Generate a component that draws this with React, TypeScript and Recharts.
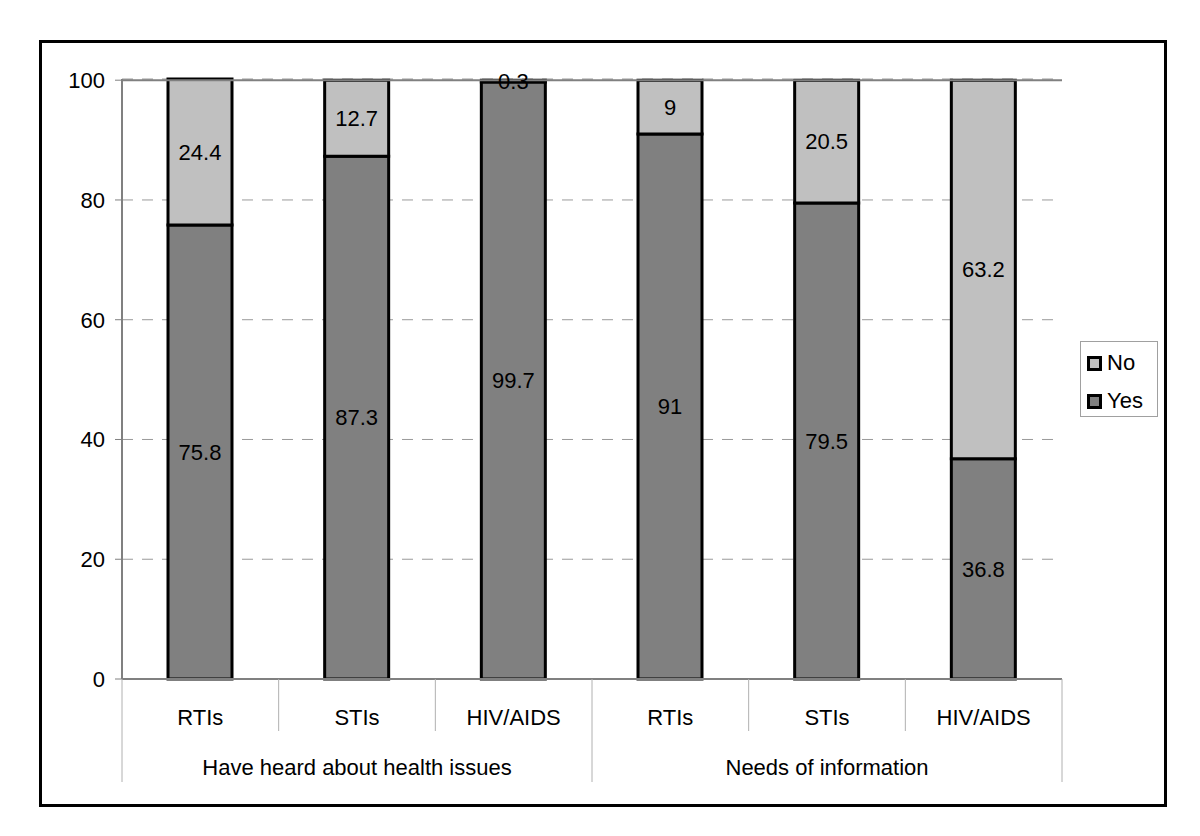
import React from 'react';
import { BarChart, Bar, XAxis, YAxis, CartesianGrid, ReferenceLine, LabelList } from 'recharts';

const categories = ['RTIs', 'STIs', 'HIV/AIDS', 'RTIs', 'STIs', 'HIV/AIDS'];
const groups = ['Have heard about health issues', 'Have heard about health issues', 'Have heard about health issues', 'Needs of information', 'Needs of information', 'Needs of information'];
const yesValues = [75.8, 87.3, 99.7, 91, 79.5, 36.8];
const noValues = [24.4, 12.7, 0.3, 9, 20.5, 63.2];
const yTicks = [0, 20, 40, 60, 80, 100];

const YES_COLOR = '#808080';
const NO_COLOR = '#c0c0c0';
const FONT = '"Liberation Sans", Arial, sans-serif';
const FS = 22;

// chart geometry
const W = 1200;
const H = 836;
const PLOT_LEFT = 122;
const PLOT_RIGHT = 1062;
const PLOT_TOP = 79;
const PLOT_BOTTOM = 679;
const BAND = (PLOT_RIGHT - PLOT_LEFT) / categories.length;

const data = categories.map((name, i) => ({
  key: `${i}`,
  name,
  group: groups[i],
  yes: yesValues[i],
  no: noValues[i],
}));

const CategoryTick = (props: any) => {
  const { x, index } = props;
  const i = index as number;
  const left = x - BAND / 2;
  const right = x + BAND / 2;
  const isGroupStart = i === 0 || groups[i] !== groups[i - 1];
  const isLast = i === categories.length - 1;
  const showGroup = i === 1 || i === 4;
  return (
    <g>
      <line x1={left} x2={left} y1={PLOT_BOTTOM} y2={isGroupStart ? 782 : 731} stroke="#b0b0b0" strokeWidth={1} />
      {isLast && <line x1={right} x2={right} y1={PLOT_BOTTOM} y2={782} stroke="#b0b0b0" strokeWidth={1} />}
      <text x={x} y={PLOT_BOTTOM + 46} textAnchor="middle" fontSize={FS} fill="#000" fontFamily={FONT}>
        {categories[i]}
      </text>
      {showGroup && (
        <text x={x} y={PLOT_BOTTOM + 96} textAnchor="middle" fontSize={FS} fill="#000" fontFamily={FONT}>
          {groups[i]}
        </text>
      )}
    </g>
  );
};

const legendItems = [
  { label: 'No', color: NO_COLOR },
  { label: 'Yes', color: YES_COLOR },
];

export default function App() {
  return (
    <div style={{ position: 'absolute', left: 0, top: 0, width: W, height: H, background: '#fff' }}>
      <BarChart
        width={W}
        height={H}
        data={data}
        margin={{ top: PLOT_TOP, right: W - PLOT_RIGHT, left: PLOT_LEFT - 70, bottom: H - PLOT_BOTTOM - 52 }}
        barCategoryGap={0}
        style={{ fontFamily: FONT }}
      >
        <CartesianGrid vertical={false} stroke="#9a9a9a" strokeDasharray="11 9" />
        <XAxis
          dataKey="key"
          height={52}
          axisLine={{ stroke: '#808080', strokeWidth: 2 }}
          tickLine={false}
          interval={0}
          tick={<CategoryTick />}
        />
        <YAxis
          domain={[0, 100]}
          ticks={yTicks}
          width={70}
          axisLine={{ stroke: '#808080', strokeWidth: 2 }}
          tickLine={{ stroke: '#808080' }}
          tickSize={7}
          tickMargin={10}
          tick={{ fill: '#000', fontSize: FS, fontFamily: FONT }}
        />
        <YAxis yAxisId="right" orientation="right" width={0} domain={[0, 100]} axisLine={{ stroke: '#808080', strokeWidth: 2 }} tick={false} tickLine={false} />
        <ReferenceLine y={100} stroke="#808080" strokeWidth={2} />
        <Bar dataKey="yes" name="Yes" stackId="a" fill={YES_COLOR} stroke="#000" strokeWidth={3} barSize={64} isAnimationActive={false}>
          <LabelList dataKey="yes" position="center" fill="#000" fontSize={FS} fontFamily={FONT} />
        </Bar>
        <Bar dataKey="no" name="No" stackId="a" fill={NO_COLOR} stroke="#000" strokeWidth={3} barSize={64} isAnimationActive={false}>
          <LabelList dataKey="no" position="center" fill="#000" fontSize={FS} fontFamily={FONT} />
        </Bar>
      </BarChart>
      <div
        style={{
          position: 'absolute',
          left: 1080,
          top: 341,
          width: 76,
          height: 74,
          border: '1px solid #a0a0a0',
          background: '#fff',
          fontFamily: FONT,
          fontSize: FS,
        }}
      >
        {legendItems.map((item, i) => (
          <div key={item.label} style={{ display: 'flex', alignItems: 'center', position: 'absolute', left: 6, top: 8 + i * 38, height: 26 }}>
            <span style={{ display: 'inline-block', width: 9, height: 9, border: '3px solid #000', background: item.color, marginRight: 5 }} />
            <span style={{ color: '#000', lineHeight: '26px' }}>{item.label}</span>
          </div>
        ))}
      </div>
      <div
        style={{
          position: 'absolute',
          left: 39,
          top: 40,
          width: 1122,
          height: 761,
          border: '3px solid #000',
          pointerEvents: 'none',
        }}
      />
    </div>
  );
}
